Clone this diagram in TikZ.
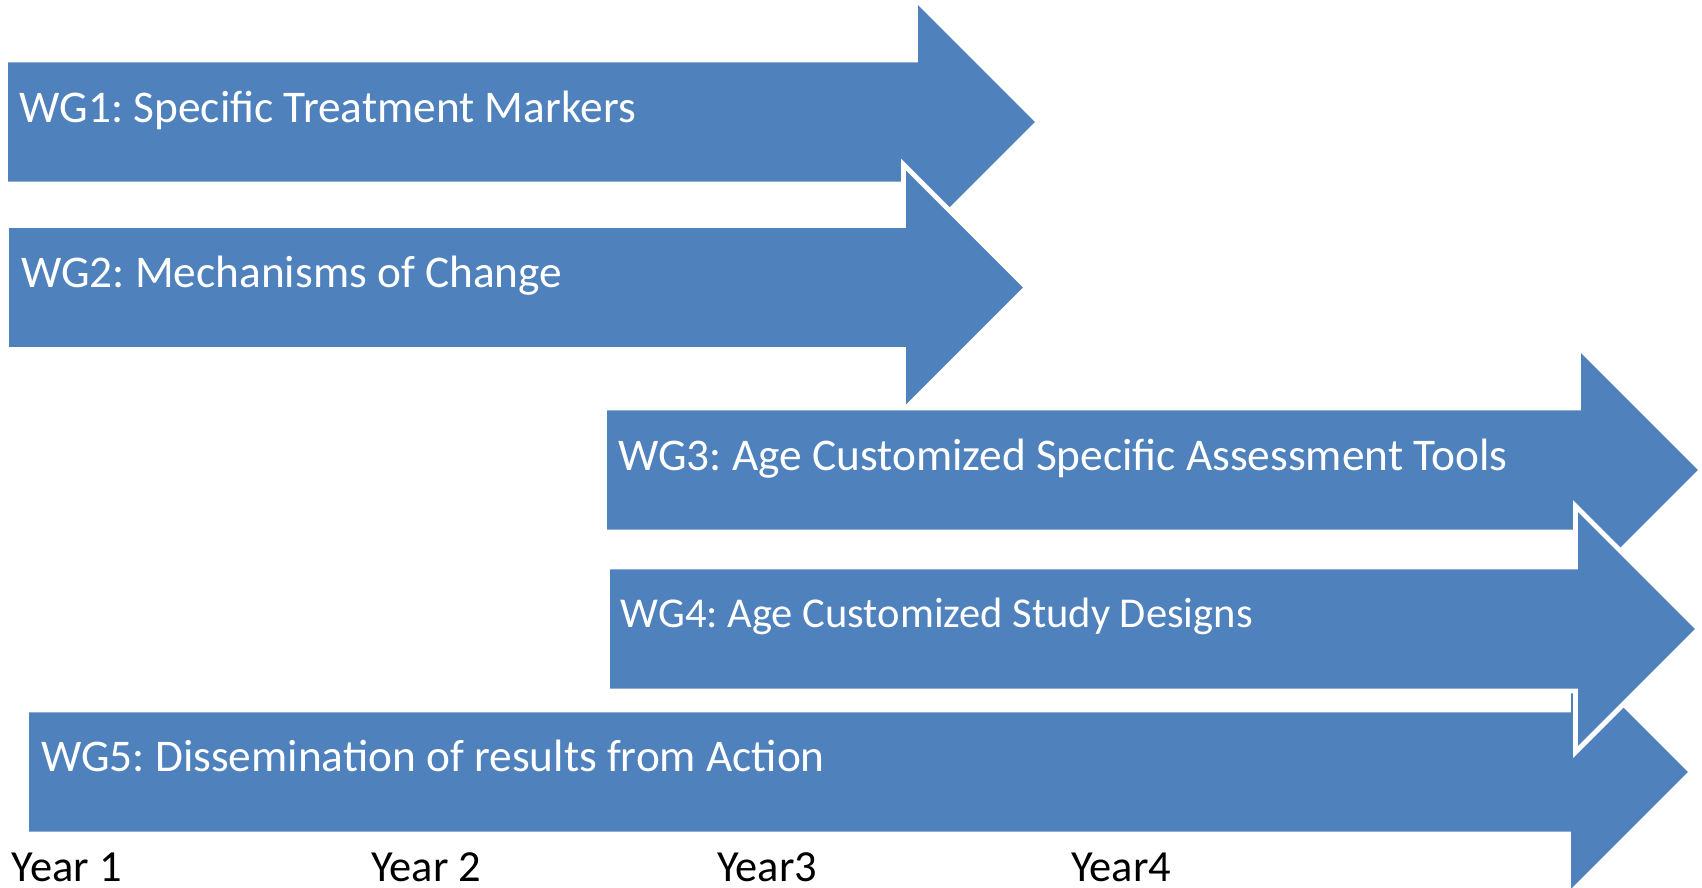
\documentclass[tikz,border=0pt]{standalone}
\usepackage{fontspec}
\setmainfont{Carlito}
\frenchspacing
\definecolor{wgblue}{RGB}{79,129,189}
\tikzset{
  {wg arrow/.style} ={fill=wgblue, draw=white, line width=2.8pt, line join=miter},
  {wg text/.style} ={anchor=base west, inner sep=0, text=white,
                     font=\fontsize{25.8}{30}\selectfont},
  {small wg text/.style} ={wg text, font=\fontsize{24.2}{28}\selectfont},
  {year text/.style} ={wg text, text=black, font=\fontsize{25.3}{30}\selectfont},
}
\begin{document}
\begin{tikzpicture}[x=0.02cm, y=-0.02cm]
\useasboundingbox (0,0) rectangle (1702,887);
% working group bars
\path[wg arrow] (5.5,60) -- (915.5,60) -- (915.5,-1) -- (1038.5,122)
  -- (915.5,245) -- (915.5,184) -- (5.5,184) -- cycle;
\path[wg arrow] (6.5,225.5) -- (903.5,225.5) -- (903.5,164.5) -- (1026.5,287.5)
  -- (903.5,410.5) -- (903.5,349.5) -- (6.5,349.5) -- cycle;
\path[wg arrow] (26.5,710) -- (1568.5,710) -- (1568.5,649) -- (1691.5,772)
  -- (1568.5,895) -- (1568.5,834) -- (26.5,834) -- cycle;
\path[wg arrow] (604.5,408) -- (1578.5,408) -- (1578.5,347) -- (1701.5,470)
  -- (1578.5,593) -- (1578.5,532) -- (604.5,532) -- cycle;
\path[wg arrow] (607.5,567) -- (1575.5,567) -- (1575.5,506) -- (1698.5,629)
  -- (1575.5,752) -- (1575.5,691) -- (607.5,691) -- cycle;
% labels
\node[wg text] (wg1) at (19.5,122) {WG1: Specific Treatment Markers};
\node[wg text] (wg2) at (21,287.5) {WG2: Mechanisms of Change};
\node[wg text] (wg3) at (618,470) {WG3: Age Customized Specific Assessment Tools};
\node[small wg text] (wg4) at (620.5,627.5) {WG4: Age Customized Study Designs};
\node[wg text] (wg5) at (41,771) {WG5: Dissemination of results from Action};
% time axis
\node[year text] (y1) at (11.5,881) {Year 1};
\node[year text] (y2) at (371,881) {Year 2};
\node[year text] (y3) at (717,881) {Year3};
\node[year text] (y4) at (1071,881) {Year4};
\end{tikzpicture}
\end{document}
